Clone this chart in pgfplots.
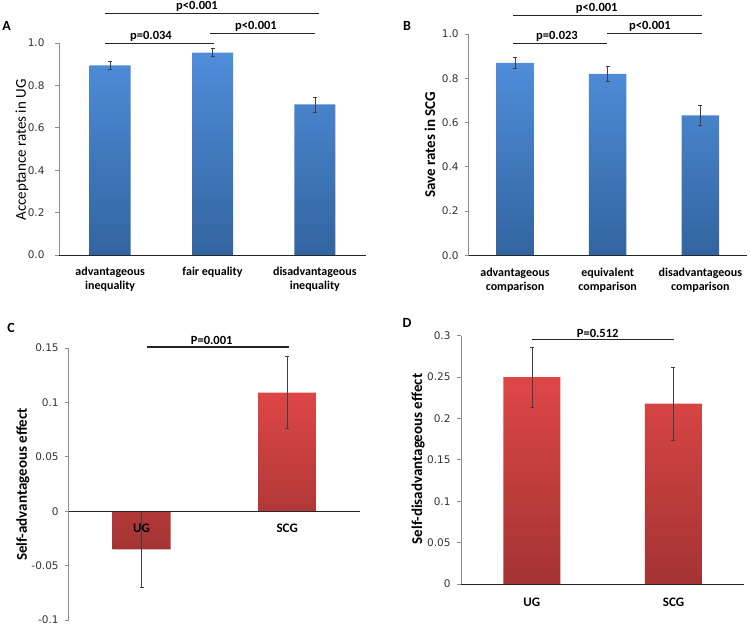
\documentclass[border=0pt]{standalone}
\usepackage{fontspec}
\setmainfont{Carlito}
\newfontfamily\tickfont{DejaVu Sans}
\usepackage{pgfplots}
\pgfplotsset{compat=1.18}

\definecolor{blueT}{HTML}{4F8DDA}
\definecolor{blueB}{HTML}{32649F}
\definecolor{redT}{HTML}{DE4646}
\definecolor{redB}{HTML}{A43333}
\definecolor{errc}{HTML}{404040}

\pgfplotsset{
  panel/.style={
    scale only axis, anchor=south west, clip=false, axis on top,
    axis y line*=left, axis line style={-},
    y axis line style={draw=black!45, line width=0.8pt},
    x axis line style={draw=black!85, line width=0.8pt},
    tick align=outside, major tick length=4pt,
    ytick style={draw=black!45, line width=0.8pt},
    xtick style={draw=none},
    yticklabel style={font=\tickfont\fontsize{10.5}{12}\selectfont, text=black!80},
    xticklabel style={font=\bfseries\fontsize{12}{14}\selectfont, align=center},
  },
  ebars/.style={forget plot, draw=none, mark=none,
    error bars/.cd, y dir=both, y explicit,
    error bar style={draw=errc, line width=0.6pt},
    error mark options={rotate=90, mark size=2pt, draw=errc, line width=0.6pt}},
}

\begin{document}
\begin{tikzpicture}[x=1pt,y=1pt]
\path[use as bounding box] (0,0) rectangle (750,625);

% ---- A
\begin{axis}[panel, at={(59pt,370pt)}, width=307pt, height=212pt,
  axis x line*=bottom,
  xmin=-0.5, xmax=2.5, ymin=0, ymax=1,
  ytick={0,0.2,0.4,0.6,0.8,1}, yticklabels={0.0,0.2,0.4,0.6,0.8,1.0},
  yticklabel style={xshift=-7pt},
  xtick={0,1,2},
  xticklabels={{advantageous\\inequality},{fair equality},{disadvantageous\\inequality}},
  xticklabel style={yshift=-5pt}]
\addplot[ybar, bar width=41pt, draw=none, top color=blueT, bottom color=blueB]
  coordinates {(0,0.895) (1,0.955) (2,0.710)};
\addplot[ebars] coordinates {(0,0.895) +- (0,0.021) (1,0.955) +- (0,0.018) (2,0.710) +- (0,0.036)};
\end{axis}

% ---- B
\begin{axis}[panel, at={(468.7pt,369.7pt)}, width=278pt, height=221.3pt,
  axis x line*=bottom,
  xmin=-0.5, xmax=2.5, ymin=0, ymax=1,
  ytick={0,0.2,0.4,0.6,0.8,1}, yticklabels={0.0,0.2,0.4,0.6,0.8,1.0},
  yticklabel style={xshift=-2.5pt},
  xtick={0,1,2},
  xticklabels={{advantageous\\comparison},{equivalent\\comparison},{disadvantageous\\comparison}},
  xticklabel style={yshift=-5pt}]
\addplot[ybar, bar width=37.5pt, draw=none, top color=blueT, bottom color=blueB]
  coordinates {(0,0.870) (1,0.820) (2,0.632)};
\addplot[ebars] coordinates {(0,0.870) +- (0,0.024) (1,0.820) +- (0,0.034) (2,0.632) +- (0,0.044)};
\end{axis}

% ---- C
\begin{axis}[panel, at={(68.7pt,5pt)}, width=291.3pt, height=272pt,
  axis x line=middle, every inner x axis line/.append style={-},
  hide obscured y ticks=false,
  xmin=-0.5, xmax=1.5, ymin=-0.1, ymax=0.15,
  ytick={-0.1,-0.05,0,0.05,0.1,0.15}, yticklabels={-0.1,-0.05,0,0.05,0.1,0.15},
  yticklabel style={xshift=-2.5pt},
  xtick={0,1}, xticklabels={UG,SCG},
  xticklabel style={font=\bfseries\fontsize{13}{15}\selectfont, yshift=-7pt}]
\addplot[ybar, bar width=58pt, draw=none, top color=redT, bottom color=redB]
  coordinates {(0,-0.035) (1,0.109)};
\addplot[ebars] coordinates {(0,-0.035) +- (0,0.035) (1,0.109) +- (0,0.033)};
\end{axis}

% ---- D
\begin{axis}[panel, at={(461pt,41pt)}, width=283.3pt, height=248.3pt,
  axis x line*=bottom,
  xmin=-0.5, xmax=1.5, ymin=0, ymax=0.3,
  ytick={0,0.05,0.1,0.15,0.2,0.25,0.3}, yticklabels={0,0.05,0.1,0.15,0.2,0.25,0.3},
  yticklabel style={xshift=-3pt},
  xtick={0,1}, xticklabels={UG,SCG},
  xticklabel style={font=\bfseries\fontsize{13}{15}\selectfont, yshift=-6pt}]
\addplot[ybar, bar width=57pt, draw=none, top color=redT, bottom color=redB]
  coordinates {(0,0.250) (1,0.218)};
\addplot[ebars] coordinates {(0,0.250) +- (0,0.036) (1,0.218) +- (0,0.044)};
\end{axis}

% panel letters and y labels
\tikzset{lett/.style={font=\bfseries\fontsize{14}{16}\selectfont},
  ylab/.style={rotate=90, font=\bfseries\fontsize{15}{17}\selectfont},
  sig/.style={anchor=south, inner sep=1pt, font=\bfseries\fontsize{12.5}{14}\selectfont},
  bracket/.style={draw=black!85, line width=1.2pt}}
\node[lett] at (6.7,599.3) {A};
\node[lett] at (407,599) {B};
\node[lett] at (11,297.5) {C};
\node[lett] at (407,302.3) {D};
\node[rotate=90, font=\fontsize{15}{17}\selectfont] at (22,475) {Acceptance rates in UG};
\node[ylab] at (430,480) {Save rates in SCG};
\node[ylab] at (23,140.5) {Self-advantageous effect};
\node[ylab] at (418,166) {Self-disadvantageous effect};

% significance brackets
\draw[bracket] (105,611.7) -- (319,611.7);
\node[sig] at (197,612.7) {p<0.001};
\draw[bracket] (210,591.7) -- (315,591.7);
\node[sig] at (256,592.7) {p<0.001};
\draw[bracket] (105,581.7) -- (214,581.7);
\node[sig] at (151,582.7) {p=0.034};

\draw[bracket] (513,609.3) -- (701.7,609.3);
\node[sig] at (596.7,610.3) {p<0.001};
\draw[bracket] (607,591.7) -- (701.7,591.7);
\node[sig] at (650,592.7) {p<0.001};
\draw[bracket] (513,581.7) -- (607,581.7);
\node[sig] at (557,582.7) {p=0.023};

\draw[bracket] (146.7,278) -- (288.7,278);
\node[sig] at (211.7,279) {P=0.001};
\draw[bracket] (531.7,285.7) -- (674.3,285.7);
\node[sig] at (597.7,286.7) {P=0.512};
\end{tikzpicture}
\end{document}
